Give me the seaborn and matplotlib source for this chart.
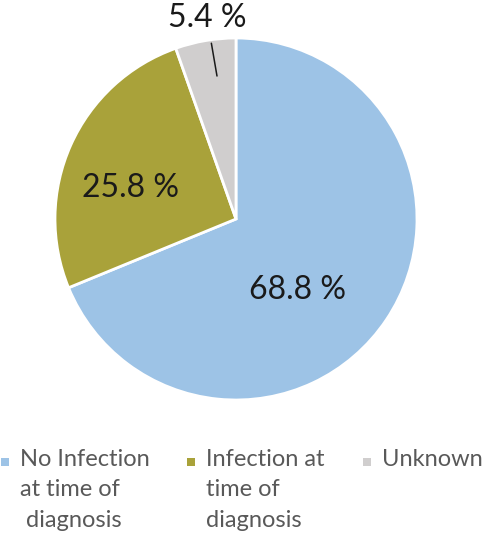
import matplotlib
matplotlib.use("Agg")
import matplotlib.pyplot as plt
import seaborn as sns
from matplotlib.patches import Rectangle

# ---- data ----
categories = ["No Infection\nat time of\n diagnosis", "Infection at\ntime of\ndiagnosis", "Unknown"]
values = [68.8, 25.8, 5.4]
colors = ["#9DC3E6", "#A9A23A", "#D0CECE"]
# label anchor positions (in pie radius units)
label_pos = [(0.34, -0.395), (-0.585, 0.17), (-0.16, 1.11)]
# legend entry left edges (pixels)
legend_x = [1, 187, 363]

sns.set_theme(style="white")
plt.rcParams['font.family'] = ['Lato', 'DejaVu Sans']

fig = plt.figure(figsize=(4.85, 5.36), dpi=100)
W, H = 485, 536
cx, cy, r = 236, 219, 181
ax = fig.add_axes([(cx - r) / W, (H - cy - r) / H, 2 * r / W, 2 * r / H])

wedges, _ = ax.pie(values, colors=colors, startangle=90, counterclock=False,
                   wedgeprops=dict(edgecolor="white", linewidth=2))
ax.set_xlim(-1, 1)
ax.set_ylim(-1, 1)
ax.set_aspect("equal")
ax.axis("off")

for i, (v, (x, y)) in enumerate(zip(values, label_pos)):
    txt = f"{v:.1f} %"
    if i == 2:
        ax.annotate(txt, xy=(-0.105, 0.79), xytext=(x, y), ha="center", va="center",
                    fontsize=23, color="#1a1a1a",
                    arrowprops=dict(arrowstyle="-", color="#1a1a1a", lw=1.1,
                                    shrinkA=5, shrinkB=0),
                    annotation_clip=False)
    else:
        ax.text(x, y, txt, ha="center", va="center", fontsize=23, color="#1a1a1a")

# legend: square marker + wrapped label, top aligned
for lab, c, x0 in zip(categories, colors, legend_x):
    fig.patches.append(Rectangle((x0 / W, (H - 466) / H), 8 / W, 8 / H,
                                 transform=fig.transFigure, facecolor=c,
                                 edgecolor="none"))
    fig.text((x0 + 19) / W, (H - 449) / H, lab, ha="left", va="top",
             fontsize=17, color="#595959", linespacing=1.55)

fig.savefig("out.png", dpi=100)
